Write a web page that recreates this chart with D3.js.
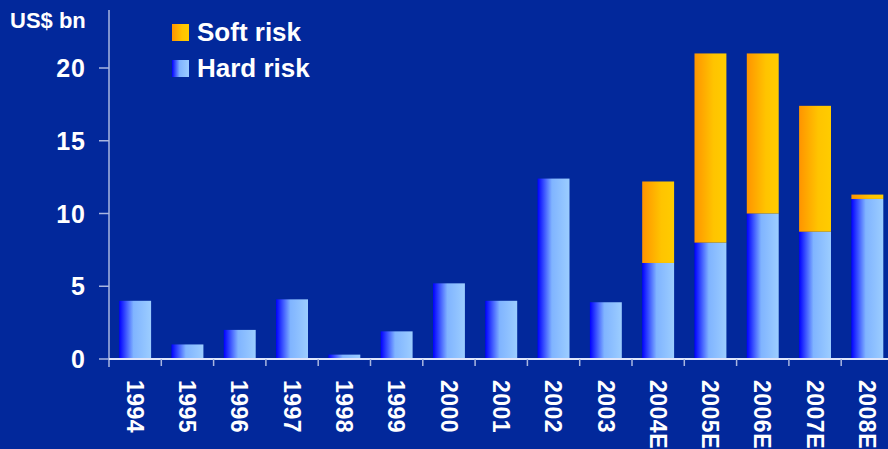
<!DOCTYPE html>
<html>
<head>
<meta charset="utf-8">
<script src="https://cdn.jsdelivr.net/npm/d3@7"></script>
<style>
  html, body { margin: 0; padding: 0; background: #02289b; }
  svg { display: block; font-family: "Liberation Sans", Arial, sans-serif; font-weight: bold; }
</style>
</head>
<body>
<svg id="chart"></svg>
<script>
// Valores em US$ bn
const years = ["1994", "1995", "1996", "1997", "1998", "1999", "2000", "2001", "2002", "2003", "2004E", "2005E", "2006E", "2007E", "2008E"];
const hardRisk = [4.0, 1.0, 2.0, 4.1, 0.3, 1.9, 5.2, 4.0, 12.4, 3.9, 6.6, 8.0, 10.0, 8.75, 11.0];
const softRisk = [0, 0, 0, 0, 0, 0, 0, 0, 0, 0, 5.6, 13.0, 11.0, 8.65, 0.3];
const yTicks = [0, 5, 10, 15, 20];
const seriesNames = ["Soft risk", "Hard risk"];

const width = 888, height = 449;
const margin = { top: 10, left: 109 };

const svg = d3.select("#chart").attr("width", width).attr("height", height);

svg.append("rect").attr("width", width).attr("height", height).attr("fill", "#02289b");

// Gradientes horizontais das barras
const defs = svg.append("defs");
const hardGrad = defs.append("linearGradient").attr("id", "hardGrad")
  .attr("x1", "0%").attr("x2", "100%").attr("y1", "0%").attr("y2", "0%");
hardGrad.append("stop").attr("offset", "0%").attr("stop-color", "#0000ff");
hardGrad.append("stop").attr("offset", "45%").attr("stop-color", "#80b4ff");
hardGrad.append("stop").attr("offset", "100%").attr("stop-color", "#9ccdff");
const softGrad = defs.append("linearGradient").attr("id", "softGrad")
  .attr("x1", "0%").attr("x2", "100%").attr("y1", "0%").attr("y2", "0%");
softGrad.append("stop").attr("offset", "0%").attr("stop-color", "#ff9400");
softGrad.append("stop").attr("offset", "60%").attr("stop-color", "#ffc400");
softGrad.append("stop").attr("offset", "100%").attr("stop-color", "#ffcc00");

// A última categoria fica parcialmente fora da área visível, como no original
const x = d3.scaleBand()
  .domain(years)
  .range([margin.left, 893.5])
  .paddingInner(0.39)
  .paddingOuter(0.195);

const y = d3.scaleLinear()
  .domain([0, 20])
  .range([359, 68]);

const data = years.map((yr, i) => ({ year: yr, hard: hardRisk[i], soft: softRisk[i] }));

// Barras de risco "hard"
svg.append("g").selectAll("rect")
  .data(data)
  .enter()
  .append("rect")
  .attr("x", d => x(d.year))
  .attr("y", d => y(d.hard))
  .attr("width", x.bandwidth())
  .attr("height", d => y(0) - y(d.hard))
  .attr("fill", "url(#hardGrad)");

// Barras de risco "soft" empilhadas
svg.append("g").selectAll("rect")
  .data(data.filter(d => d.soft > 0))
  .enter()
  .append("rect")
  .attr("x", d => x(d.year))
  .attr("y", d => y(d.hard + d.soft))
  .attr("width", x.bandwidth())
  .attr("height", d => y(d.hard) - y(d.hard + d.soft))
  .attr("fill", "url(#softGrad)");

// Eixo Y
const yAxis = svg.append("g").attr("transform", `translate(${margin.left},0)`);
yAxis.append("line")
  .attr("x1", 0).attr("x2", 0).attr("y1", margin.top).attr("y2", 367)
  .attr("stroke", "#a9b6e0").attr("stroke-width", 1.5);
yAxis.selectAll(".tick")
  .data(yTicks)
  .enter()
  .append("line")
  .attr("x1", -10).attr("x2", 0)
  .attr("y1", d => y(d)).attr("y2", d => y(d))
  .attr("stroke", "#a9b6e0").attr("stroke-width", 1.5);
yAxis.selectAll("text")
  .data(yTicks)
  .enter()
  .append("text")
  .attr("x", -23)
  .attr("y", d => y(d))
  .attr("dy", "0.36em")
  .attr("text-anchor", "end")
  .attr("fill", "#ffffff")
  .style("font-size", "25px")
  .style("letter-spacing", "1px")
  .text(d => d);

svg.append("text")
  .attr("x", 10).attr("y", 28)
  .attr("fill", "#ffffff")
  .style("font-size", "22px")
  .text("US$ bn");

// Eixo X
const xAxis = svg.append("g");
xAxis.append("line")
  .attr("x1", margin.left).attr("x2", width)
  .attr("y1", y(0)).attr("y2", y(0))
  .attr("stroke", "#dfe6fb").attr("stroke-width", 2);
const half = x.step() * x.paddingInner() / 2;
xAxis.selectAll(".xtick")
  .data(years.slice(1))
  .enter()
  .append("line")
  .attr("x1", d => x(d) - half)
  .attr("x2", d => x(d) - half)
  .attr("y1", y(0)).attr("y2", y(0) + 7)
  .attr("stroke", "#a9b6e0").attr("stroke-width", 1.5);
xAxis.selectAll("text")
  .data(years)
  .enter()
  .append("text")
  .attr("transform", d => `translate(${x(d) + x.bandwidth() / 2},380) rotate(90)`)
  .attr("dy", "0.36em")
  .attr("text-anchor", "start")
  .attr("fill", "#ffffff")
  .style("font-size", "23px")
  .style("letter-spacing", "0.5px")
  .text(d => d);

// Legenda
const legend = svg.append("g").attr("transform", "translate(172,24)");
seriesNames.forEach((name, i) => {
  const row = legend.append("g").attr("transform", `translate(0,${i * 36})`);
  row.append("rect")
    .attr("width", 17).attr("height", 17)
    .attr("fill", i === 0 ? "url(#softGrad)" : "url(#hardGrad)");
  row.append("text")
    .attr("x", 25).attr("y", 17)
    .attr("fill", "#ffffff")
    .style("font-size", "26px")
    .text(name);
});
</script>
</body>
</html>
